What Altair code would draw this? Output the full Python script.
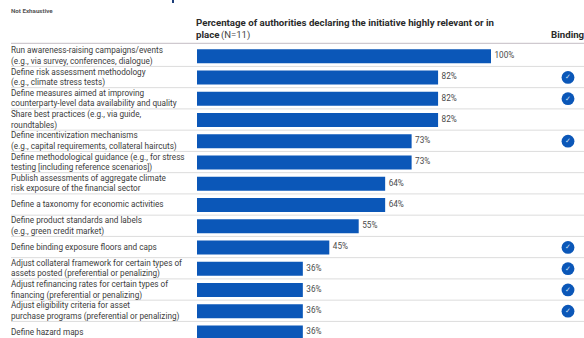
import altair as alt
import pandas as pd

initiatives = [
    "Run awareness-raising campaigns/events\n(e.g., via survey, conferences, dialogue)",
    "Define risk assessment methodology\n(e.g., climate stress tests)",
    "Define measures aimed at improving\ncounterparty-level data availability and quality",
    "Share best practices (e.g., via guide,\nroundtables)",
    "Define incentivization mechanisms\n(e.g., capital requirements, collateral haircuts)",
    "Define methodological guidance (e.g., for stress\ntesting [including reference scenarios])",
    "Publish assessments of aggregate climate\nrisk exposure of the financial sector",
    "Define a taxonomy for economic activities",
    "Define product standards and labels\n(e.g., green credit market)",
    "Define binding exposure floors and caps",
    "Adjust collateral framework for certain types of\nassets posted (preferential or penalizing)",
    "Adjust refinancing rates for certain types of\nfinancing (preferential or penalizing)",
    "Adjust eligibility criteria for asset\npurchase programs (preferential or penalizing)",
    "Define hazard maps",
]
percentages = [100, 82, 82, 82, 73, 73, 64, 64, 55, 45, 36, 36, 36, 36]
binding = [False, True, True, False, True, False, False, False, False, True, True, True, True, False]
header_lines = [
    "Percentage of authorities declaring the initiative highly relevant or in",
]

BLUE = "#0b57b8"
W, H = 584, 338
ROW_PX = 21.25
FIRST_ROW_PX = 56.2

df = pd.DataFrame({
    "row": range(len(initiatives)),
    "label": [s.split("\n") for s in initiatives],
    "pct": percentages,
    "binding": binding,
})
df["top"] = df["row"] - 0.33
df["bottom"] = df["row"] + 0.33
df["sep"] = df["row"] + 0.48
df["text"] = df["pct"].astype(str) + "%"
# Vega anchors a multi-line label on its first line, so two-line labels move up half a line.
df["label_row"] = df["row"] - df["label"].map(lambda lines: (len(lines) - 1) * 5.25 / ROW_PX)

# Pixel-aligned scales: 0% sits at x=197, 100% at x=491.
x_scale = alt.Scale(domain=[-197 / 2.94, (W - 197) / 2.94], nice=False, zero=False)
y_scale = alt.Scale(
    domain=[-FIRST_ROW_PX / ROW_PX, (H - FIRST_ROW_PX) / ROW_PX], range=[0, H], nice=False, zero=False
)
X = alt.X("pct:Q", scale=x_scale, axis=None)
Y = alt.Y("row:Q", scale=y_scale, axis=None)

base = alt.Chart(df)

separators = base.mark_rule(color="#dcdcdc", strokeWidth=1).encode(
    y=alt.Y("sep:Q", scale=y_scale, axis=None),
    x=alt.value(11),
    x2=alt.value(W),
)
head_rule = alt.Chart(pd.DataFrame({"y": [-0.607]})).mark_rule(color="#c4bcc4", strokeWidth=1).encode(
    y=alt.Y("y:Q", scale=y_scale, axis=None),
    x=alt.value(11),
    x2=alt.value(W),
)
bars = base.mark_bar(color=BLUE, cornerRadius=0).encode(
    x=alt.X("zero:Q", scale=x_scale, axis=None),
    x2="pct:Q",
    y=alt.Y("top:Q", scale=y_scale, axis=None),
    y2="bottom:Q",
).transform_calculate(zero="0")
values = base.mark_text(align="left", baseline="middle", dx=3.5, font="Roboto", fontSize=8.2, color="#4a4a4a").encode(
    x=X, y=Y, text="text:N"
)
labels = base.mark_text(
    align="left", baseline="middle", dy=0.5, font="Roboto", fontSize=8.2, color="#3c3c3c", lineHeight=10.5
).encode(x=alt.value(11), y=alt.Y("label_row:Q", scale=y_scale, axis=None), text="label:N")

flags = df[df["binding"]]
flag_base = alt.Chart(flags)
circles = flag_base.mark_point(filled=True, shape="circle", size=165, color=BLUE, opacity=1).encode(
    x=alt.value(568), y=Y
)
checks = flag_base.mark_text(text="✓", font="DejaVu Sans", fontSize=7, color="#cfe0f5").encode(
    x=alt.value(568), y=Y
)

# The heading above the table runs off the top edge; only one descender stays visible.
title_stub = alt.Chart(pd.DataFrame({"y0": [0]})).mark_rule(color="#1d3f7a", strokeWidth=2).encode(
    x=alt.value(173), y=alt.value(0), y2=alt.value(3)
)


def note(text, x, y, size, weight="normal", color="#2b2b2b"):
    return alt.Chart(pd.DataFrame({"t": [text]})).mark_text(
        align="left", baseline="middle", font="Roboto", fontSize=size, fontWeight=weight, color=color
    ).encode(x=alt.value(x), y=alt.value(y), text="t:N")


chart = alt.layer(
    separators, head_rule, bars, values, labels, circles, checks, title_stub,
    note("Not Exhaustive", 11, 11, 6.2, "bold", "#555555"),
    note(header_lines[0], 196, 23, 9.7, "bold"),
    note("place", 196, 35, 9.7, "bold"),
    note("(N=11)", 221, 35, 9.5, "normal", "#444444"),
    note("Binding", 551, 35, 9.7, "bold"),
).properties(width=W, height=H, padding=0, autosize=alt.AutoSizeParams(type="none")).configure_view(stroke=None)

chart.save("out.html", embed_options={"renderer": "svg", "actions": False})
